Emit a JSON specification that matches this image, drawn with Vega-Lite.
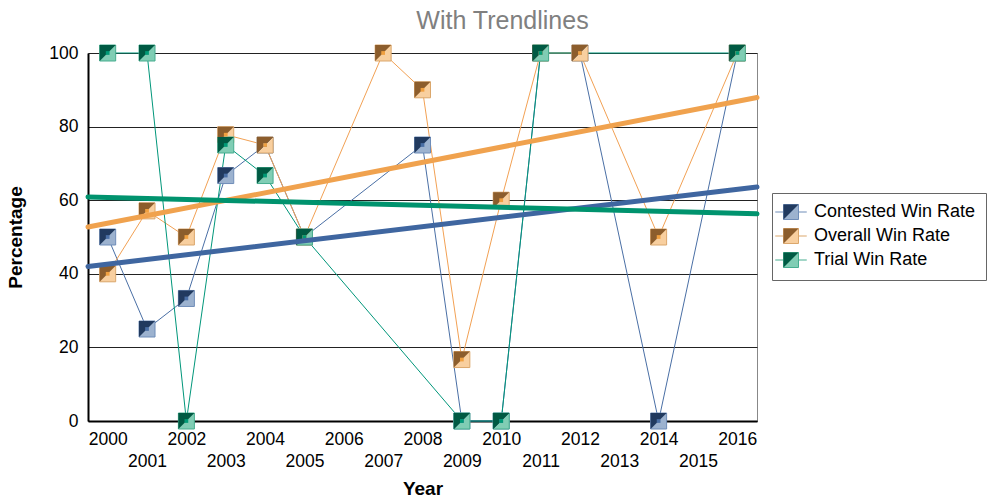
{
  "$schema": "https://vega.github.io/schema/vega-lite/v6.json",
  "width": 669,
  "height": 368,
  "autosize": {"type": "none"},
  "padding": {"left": 88, "top": 53, "right": 240, "bottom": 81},
  "background": "white",
  "title": {"text": "With Trendlines", "fontSize": 25, "color": "#808080", "font": "Liberation Sans", "fontWeight": "normal", "anchor": "middle", "dx": 80, "baseline": "alphabetic", "offset": -11},
  "config": {"view": {"stroke": "#888888", "strokeWidth": 1}, "font": "Liberation Sans"},
  "datasets": {
    "pts": [
      {"series": "Contested Win Rate", "year": 2000, "value": 50},
      {"series": "Contested Win Rate", "year": 2001, "value": 25},
      {"series": "Contested Win Rate", "year": 2002, "value": 33.3},
      {"series": "Contested Win Rate", "year": 2003, "value": 66.7},
      {"series": "Contested Win Rate", "year": 2004, "value": 75},
      {"series": "Contested Win Rate", "year": 2005, "value": 50},
      {"series": "Contested Win Rate", "year": 2008, "value": 75},
      {"series": "Contested Win Rate", "year": 2009, "value": 0},
      {"series": "Contested Win Rate", "year": 2010, "value": 0},
      {"series": "Contested Win Rate", "year": 2011, "value": 100},
      {"series": "Contested Win Rate", "year": 2012, "value": 100},
      {"series": "Contested Win Rate", "year": 2014, "value": 0},
      {"series": "Contested Win Rate", "year": 2016, "value": 100},
      {"series": "Overall Win Rate", "year": 2000, "value": 40},
      {"series": "Overall Win Rate", "year": 2001, "value": 57.1},
      {"series": "Overall Win Rate", "year": 2002, "value": 50},
      {"series": "Overall Win Rate", "year": 2003, "value": 77.8},
      {"series": "Overall Win Rate", "year": 2004, "value": 75},
      {"series": "Overall Win Rate", "year": 2005, "value": 50},
      {"series": "Overall Win Rate", "year": 2007, "value": 100},
      {"series": "Overall Win Rate", "year": 2008, "value": 90},
      {"series": "Overall Win Rate", "year": 2009, "value": 16.7},
      {"series": "Overall Win Rate", "year": 2010, "value": 60},
      {"series": "Overall Win Rate", "year": 2011, "value": 100},
      {"series": "Overall Win Rate", "year": 2012, "value": 100},
      {"series": "Overall Win Rate", "year": 2014, "value": 50},
      {"series": "Overall Win Rate", "year": 2016, "value": 100},
      {"series": "Trial Win Rate", "year": 2000, "value": 100},
      {"series": "Trial Win Rate", "year": 2001, "value": 100},
      {"series": "Trial Win Rate", "year": 2002, "value": 0},
      {"series": "Trial Win Rate", "year": 2003, "value": 75},
      {"series": "Trial Win Rate", "year": 2004, "value": 66.7},
      {"series": "Trial Win Rate", "year": 2005, "value": 50},
      {"series": "Trial Win Rate", "year": 2009, "value": 0},
      {"series": "Trial Win Rate", "year": 2010, "value": 0},
      {"series": "Trial Win Rate", "year": 2011, "value": 100},
      {"series": "Trial Win Rate", "year": 2016, "value": 100}
    ],
    "trend": [
      {"series": "Contested Win Rate", "year": 1999.5, "value": 42.0},
      {"series": "Contested Win Rate", "year": 2016.5, "value": 63.6},
      {"series": "Overall Win Rate", "year": 1999.5, "value": 52.7},
      {"series": "Overall Win Rate", "year": 2016.5, "value": 87.9},
      {"series": "Trial Win Rate", "year": 1999.5, "value": 60.9},
      {"series": "Trial Win Rate", "year": 2016.5, "value": 56.3}
    ]
  },
  "encoding": {
    "x": {
      "field": "year", "type": "quantitative",
      "scale": {"domain": [1999.5, 2016.5], "nice": false, "zero": false},
      "axis": {
        "values": [2000,2001,2002,2003,2004,2005,2006,2007,2008,2009,2010,2011,2012,2013,2014,2015,2016],
        "format": "d",
        "labelExpr": "datum.value % 2 ? ['', datum.label] : datum.label",
        "labelLineHeight": 22,
        "labelFontSize": 17.5, "labelColor": "#000000", "labelPadding": 9,
        "labelFlush": false, "labelOverlap": false, "labelBaseline": "top",
        "ticks": false, "grid": false,
        "domainColor": "#000000", "domainWidth": 2,
        "title": "Year", "titleFontSize": 19, "titleFontWeight": "bold", "titleColor": "#000000", "titlePadding": 10
      }
    },
    "y": {
      "field": "value", "type": "quantitative",
      "scale": {"domain": [0, 100], "nice": false},
      "axis": {
        "values": [0, 20, 40, 60, 80, 100],
        "labelFontSize": 17.5, "labelColor": "#000000", "labelPadding": 10,
        "ticks": false, "grid": true, "gridColor": "#222222", "gridWidth": 1.2,
        "domainColor": "#000000", "domainWidth": 2,
        "title": "Percentage", "titleFontSize": 19, "titleFontWeight": "bold", "titleColor": "#000000", "titlePadding": 23
      }
    }
  },
  "layer": [
    {
      "data": {"name": "pts"},
      "mark": {"type": "line", "strokeWidth": 1},
      "encoding": {
        "stroke": {"field": "series", "type": "nominal",
          "scale": {"domain": ["Contested Win Rate", "Overall Win Rate", "Trial Win Rate"], "range": ["#4a6fa5", "#f2a154", "#00967a"]},
          "legend": null}
      }
    },
    {
      "data": {"name": "pts"},
      "mark": {"type": "point", "shape": "square", "size": 256, "filled": true, "strokeWidth": 1, "opacity": 1},
      "encoding": {
        "fill": {"field": "series", "type": "nominal",
          "scale": {"domain": ["Contested Win Rate", "Overall Win Rate", "Trial Win Rate"], "range": ["#9cb2cf", "#f8cf9f", "#80cdb4"]},
          "legend": {"title": null, "orient": "none", "legendX": 684, "legendY": 140, "padding": 10, "strokeColor": "#666666", "fillColor": "white",
            "symbolType": "M-2.1,0L-1,0M1,0L2.1,0M-1,-1L1,-1L1,1L-1,1Z", "symbolSize": 225, "symbolStrokeWidth": 1,
            "labelFontSize": 18, "labelColor": "#000000", "labelOffset": 14, "labelLimit": 300, "rowPadding": 4, "zindex": 1}},
        "stroke": {"field": "series", "type": "nominal",
          "scale": {"domain": ["Contested Win Rate", "Overall Win Rate", "Trial Win Rate"], "range": ["#6f8db8", "#dba76c", "#46ad8f"]},
          "legend": {"title": null, "orient": "none", "legendX": 684, "legendY": 140, "padding": 10, "strokeColor": "#666666", "fillColor": "white",
            "symbolType": "M-2.1,0L-1,0M1,0L2.1,0M-1,-1L1,-1L1,1L-1,1Z", "symbolSize": 225, "symbolStrokeWidth": 1,
            "labelFontSize": 18, "labelColor": "#000000", "labelOffset": 14, "labelLimit": 300, "rowPadding": 4, "zindex": 1}}
      }
    },
    {
      "data": {"name": "pts"},
      "mark": {"type": "point", "shape": "M-1,-1L1,-1L-1,1Z", "size": 256, "filled": true, "strokeWidth": 0, "opacity": 1},
      "encoding": {
        "fill": {"field": "series", "type": "nominal",
          "scale": {"domain": ["Contested Win Rate", "Overall Win Rate", "Trial Win Rate"], "range": ["#213a5f", "#8c5d2c", "#005a43"]},
          "legend": {"title": null, "orient": "none", "legendX": 684, "legendY": 140, "padding": 10, "strokeColor": "transparent",
            "symbolType": "M-1,-1L1,-1L-1,1Z", "symbolSize": 225, "symbolStrokeWidth": 1, "symbolStrokeColor": "transparent",
            "labelFontSize": 18, "labelColor": "transparent", "labelOffset": 14, "labelLimit": 300, "rowPadding": 4, "zindex": 2}}
      }
    },
    {
      "data": {"name": "pts"},
      "mark": {"type": "point", "shape": "square", "size": 14, "filled": true, "strokeWidth": 0, "opacity": 1},
      "encoding": {
        "fill": {"field": "series", "type": "nominal",
          "scale": {"domain": ["Contested Win Rate", "Overall Win Rate", "Trial Win Rate"], "range": ["#4a6fa5", "#f0a040", "#009a76"]},
          "legend": null}
      }
    },
    {
      "data": {"name": "trend"},
      "mark": {"type": "line", "strokeWidth": 5, "strokeCap": "round"},
      "encoding": {
        "stroke": {"field": "series", "type": "nominal",
          "scale": {"domain": ["Contested Win Rate", "Overall Win Rate", "Trial Win Rate"], "range": ["#3f66a0", "#f0a24e", "#00936e"]},
          "legend": null}
      }
    }
  ],
  "resolve": {"scale": {"stroke": "independent", "fill": "independent"}, "legend": {"stroke": "independent", "fill": "independent"}}
}
